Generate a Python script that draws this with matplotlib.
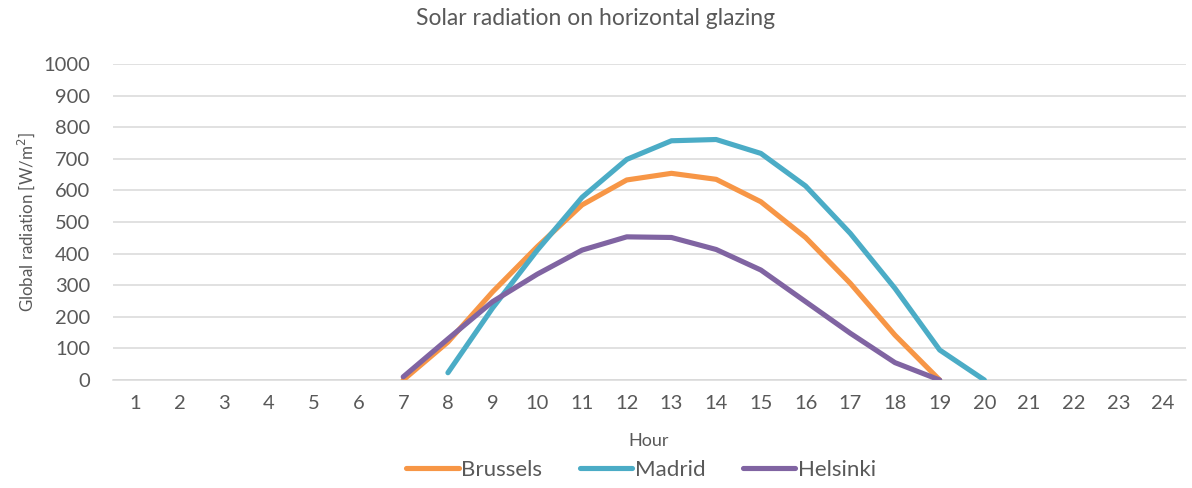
import matplotlib.pyplot as plt
import numpy as np

plt.rcParams['font.family'] = ['Lato', 'DejaVu Sans']

hours = list(range(1, 25))

# values (None = no data for that hour)
brussels = [None]*6 + [0, 120, 279, 422, 554, 633, 654, 635, 564, 451, 306, 142, 0] + [None]*5
madrid = [None]*7 + [23, 228, 411, 578, 698, 757, 761, 717, 614, 464, 290, 95, 0] + [None]*4
helsinki = [None]*6 + [10, 130, 248, 335, 411, 453, 451, 413, 348, 248, 148, 55, 0] + [None]*5

series = [('Brussels', brussels, '#F79646'),
          ('Madrid', madrid, '#4BACC6'),
          ('Helsinki', helsinki, '#8064A2')]

txt = '#595959'

fig = plt.figure(figsize=(11.92, 4.88), dpi=100)
ax = fig.add_axes([0.0945, 0.2213, 0.9001, 0.6476])

for name, vals, col in series:
    y = np.array([np.nan if v is None else v for v in vals], dtype=float)
    ax.plot(hours, y, color=col, lw=3.7, label=name,
            solid_capstyle='round', solid_joinstyle='round', zorder=3)

ax.set_xlim(0.5, 24.5)
ax.set_ylim(0, 1000)
ax.set_yticks(range(0, 1001, 100))
ax.set_xticks(hours)
ax.grid(axis='y', color='#D9D9D9', lw=1.1, zorder=0)
ax.tick_params(length=0, labelsize=14.5, colors=txt)
ax.tick_params(axis='x', pad=11)
ax.tick_params(axis='y', pad=16)
for s in ['top', 'right', 'left']:
    ax.spines[s].set_visible(False)
ax.spines['bottom'].set_color('#D9D9D9')
ax.spines['bottom'].set_linewidth(1.1)

ax.set_ylabel('Global radiation [W/m$^2$]', fontsize=12.2, color=txt, labelpad=5)
ax.set_xlabel('Hour', fontsize=13, color=txt, labelpad=15)
fig.text(0.5, 0.962, 'Solar radiation on horizontal glazing', ha='center', va='center',
         fontsize=16.5, color=txt)

leg = fig.legend(loc='center', bbox_to_anchor=(0.538, 0.037), ncol=3, frameon=False,
                 fontsize=16, handlelength=2.35, handletextpad=0.12, columnspacing=1.7)
for t in leg.get_texts():
    t.set_color(txt)

fig.savefig('out.png', dpi=100)
